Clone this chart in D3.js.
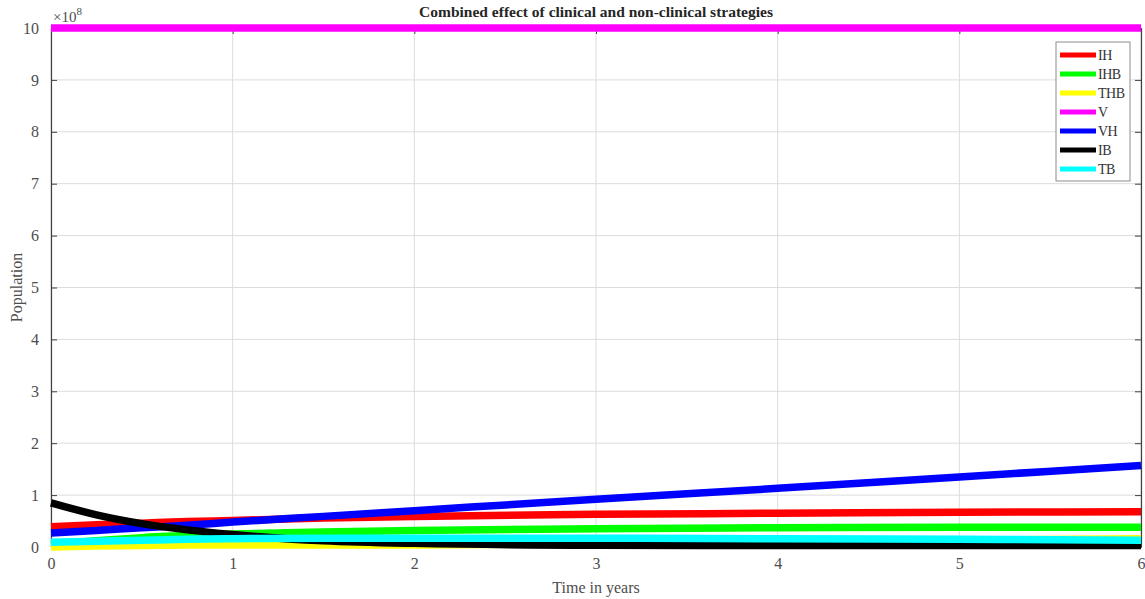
<!DOCTYPE html>
<html>
<head>
<meta charset="utf-8">
<script src="https://cdn.jsdelivr.net/npm/d3@7"></script>
<style>
  body { margin: 0; background: white; }
  text { font-family: "Liberation Serif", "Times New Roman", serif; }
</style>
</head>
<body>
<div class="chart"></div>
<script>
// time in years
let years = [0, 0.25, 0.5, 0.75, 1, 1.5, 2, 3, 4, 5, 6];

// populations in units of 1e8
let IH  = [0.39, 0.43, 0.46, 0.49, 0.51, 0.56, 0.59, 0.63, 0.65, 0.67, 0.68];
let IHB = [0.04, 0.12, 0.18, 0.22, 0.25, 0.29, 0.32, 0.35, 0.37, 0.38, 0.38];
let THB = [0.00, 0.02, 0.03, 0.04, 0.04, 0.04, 0.04, 0.07, 0.10, 0.13, 0.16];
let V   = [10, 10, 10, 10, 10, 10, 10, 10, 10, 10, 10];
let VH  = [0.27, 0.32, 0.37, 0.42, 0.48, 0.59, 0.70, 0.92, 1.13, 1.35, 1.57];
let IB  = [0.85, 0.62, 0.45, 0.33, 0.24, 0.12, 0.07, 0.035, 0.03, 0.03, 0.03];
let TB  = [0.09, 0.11, 0.13, 0.15, 0.16, 0.17, 0.17, 0.17, 0.16, 0.15, 0.13];

let seriesNames = ["IH", "IHB", "THB", "V", "VH", "IB", "TB"];
let seriesValues = [IH, IHB, THB, V, VH, IB, TB];
let colors = ["#ff0000", "#00ff00", "#ffff00", "#ff00ff", "#0000ff", "#000000", "#00ffff"];

let xTicks = [0, 1, 2, 3, 4, 5, 6];
let yTicks = [0, 1, 2, 3, 4, 5, 6, 7, 8, 9, 10];

let margin = { top: 28, right: 4, bottom: 52, left: 51 };
let width = 1145 - margin.left - margin.right;
let height = 599 - margin.top - margin.bottom;

let svg = d3.select(".chart")
    .append("svg")
    .attr("width", 1145)
    .attr("height", 599)
    .style("background-color", "white");

let g = svg.append("g")
    .attr("transform", "translate(" + margin.left + "," + margin.top + ")");

let x = d3.scaleLinear().domain([0, 6]).range([0, width]);
let y = d3.scaleLinear().domain([0, 10]).range([height, 0]);

// grid
g.append("g")
    .selectAll("line")
    .data(xTicks)
    .enter()
    .append("line")
    .attr("x1", d => x(d)).attr("x2", d => x(d))
    .attr("y1", 0).attr("y2", height)
    .style("stroke", "#dcdcdc")
    .style("stroke-width", 1);

g.append("g")
    .selectAll("line")
    .data(yTicks)
    .enter()
    .append("line")
    .attr("y1", d => y(d)).attr("y2", d => y(d))
    .attr("x1", 0).attr("x2", width)
    .style("stroke", "#dcdcdc")
    .style("stroke-width", 1);

// axes, ticks inward on all four sides
function styleAxis(sel) {
    sel.select(".domain").style("stroke", "#404040").style("stroke-width", 1.2);
    sel.selectAll(".tick line").style("stroke", "#404040");
    sel.selectAll(".tick text")
        .style("font-family", "Liberation Serif")
        .style("font-size", "16px")
        .style("fill", "#4d4d4d");
}

g.append("g")
    .attr("transform", "translate(0," + height + ")")
    .call(d3.axisBottom(x).tickValues(xTicks).tickFormat(d3.format("d")).tickSizeInner(-6).tickSizeOuter(0).tickPadding(11))
    .call(styleAxis);

g.append("g")
    .call(d3.axisTop(x).tickValues(xTicks).tickSizeInner(-6).tickSizeOuter(0).tickFormat(""))
    .call(styleAxis);

g.append("g")
    .call(d3.axisLeft(y).tickValues(yTicks).tickSizeInner(-6).tickSizeOuter(0).tickPadding(12))
    .call(styleAxis);

g.append("g")
    .attr("transform", "translate(" + width + ",0)")
    .call(d3.axisRight(y).tickValues(yTicks).tickSizeInner(-6).tickSizeOuter(0).tickFormat(""))
    .call(styleAxis);

// lines
let line = d3.line()
    .x(d => x(d[0]))
    .y(d => y(d[1]))
    .curve(d3.curveMonotoneX);

seriesValues.forEach(function (vals, i) {
    g.append("path")
        .datum(years.map((t, k) => [t, vals[k]]))
        .attr("d", line)
        .style("fill", "none")
        .style("stroke", colors[i])
        .style("stroke-width", 7.5);
});

// exponent label
let expo = svg.append("text")
    .attr("x", 53)
    .attr("y", 22)
    .style("font-size", "15px")
    .style("fill", "#4d4d4d");
expo.append("tspan").text("\u00d710");
expo.append("tspan").attr("dy", -7).style("font-size", "11px").text("8");

// title
svg.append("text")
    .attr("x", margin.left + width / 2)
    .attr("y", 17)
    .attr("text-anchor", "middle")
    .style("font-size", "15.5px")
    .style("font-weight", "bold")
    .style("fill", "#262626")
    .text("Combined effect of clinical and non-clinical strategies");

// axis labels
svg.append("text")
    .attr("x", margin.left + width / 2)
    .attr("y", 593)
    .attr("text-anchor", "middle")
    .style("font-size", "16px")
    .style("fill", "#4d4d4d")
    .text("Time in years");

svg.append("text")
    .attr("transform", "translate(22," + (margin.top + height / 2) + ") rotate(-90)")
    .attr("text-anchor", "middle")
    .style("font-size", "16px")
    .style("fill", "#4d4d4d")
    .text("Population");

// legend
svg.append("rect")
    .attr("x", 1056)
    .attr("y", 42)
    .attr("width", 74)
    .attr("height", 139)
    .style("fill", "white")
    .style("stroke", "#8c8c8c")
    .style("stroke-width", 1);

let legend = svg.append("g")
    .selectAll("g")
    .data(seriesNames)
    .enter()
    .append("g")
    .attr("transform", (d, i) => "translate(0," + (55 + i * 19) + ")");

legend.append("line")
    .attr("x1", 1060).attr("x2", 1096)
    .attr("y1", 0).attr("y2", 0)
    .style("stroke", (d, i) => colors[i])
    .style("stroke-width", 5);

legend.append("text")
    .attr("x", 1098)
    .attr("y", 0)
    .attr("dy", "0.35em")
    .style("font-size", "14px")
    .style("letter-spacing", "-0.5px")
    .style("fill", "#333")
    .text(d => d);
</script>
</body>
</html>
